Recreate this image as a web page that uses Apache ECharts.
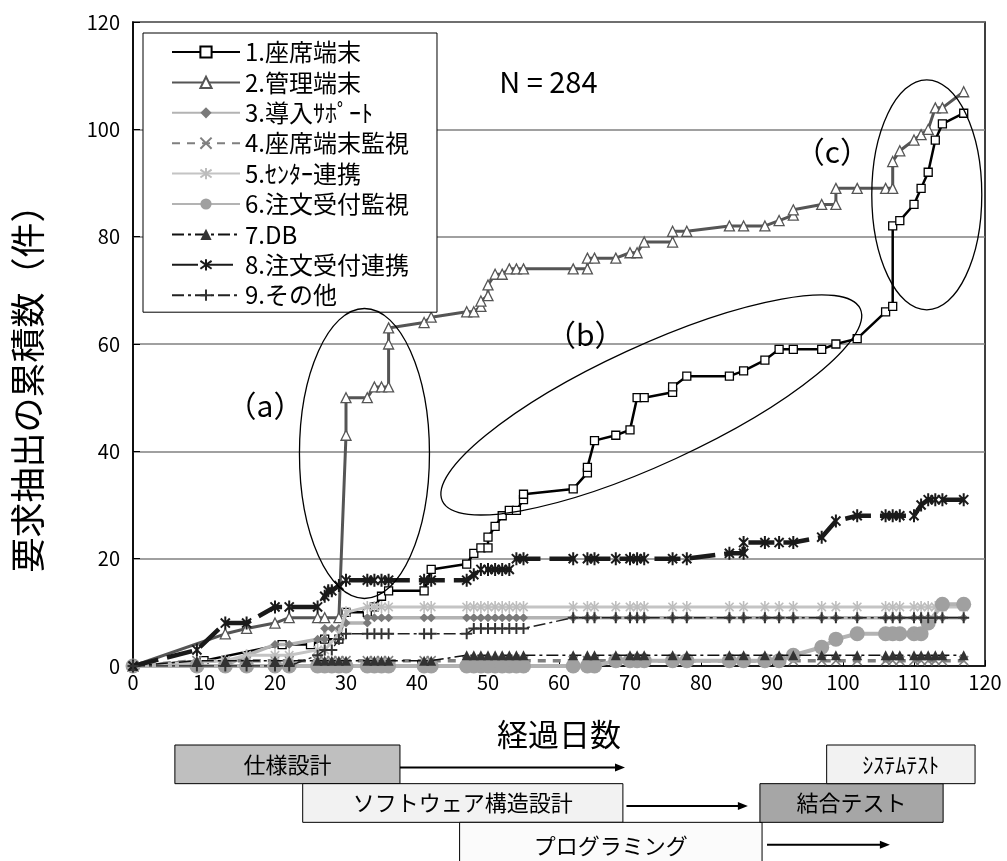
<!DOCTYPE html>
<html><head><meta charset="utf-8">
<script src="https://cdn.jsdelivr.net/npm/echarts@6/dist/echarts.min.js"></script>
<style>html,body{margin:0;padding:0;background:#fff}#c{width:1007px;height:861px}</style>
</head><body><div id="c"></div>
<script>
const FONT = '"Noto Sans CJK JP", "Noto Sans", sans-serif';

// ---- data ----
const seriesNames = ['1.座席端末','2.管理端末','3.導入ｻﾎﾟｰﾄ','4.座席端末監視','5.ｾﾝﾀｰ連携','6.注文受付監視','7.DB','8.注文受付連携','9.その他'];
const xTicks = [0,10,20,30,40,50,60,70,80,90,100,110,120];
const yTicks = [0,20,40,60,80,100,120];

const s1 = [[0,0],[10,1],[21,4],[25,4],[27,5],[29,5],[30,10],[33,10],[34,11],[35,13],[36,14],[41,14],[42,18],[47,19],[48,21],[49,22],[50,22],[50,24],[51,26],[52,28],[53,29],[54,29],[55,31],[55,32],[62,33],[64,36],[64,37],[65,42],[68,43],[70,44],[71,50],[72,50],[76,51],[76,52],[78,54],[84,54],[86,55],[89,57],[91,59],[93,59],[97,59],[99,60],[102,61],[106,66],[107,67],[107,82],[108,83],[110,86],[111,89],[112,92],[113,98],[114,101],[117,103]];
const s2 = [[0,0],[13,6],[16,7],[20,8],[22,9],[26,9],[27,9],[29,9],[30,43],[30,50],[33,50],[34,52],[35,52],[36,52],[36,60],[36,63],[41,64],[42,65],[47,66],[48,66],[49,67],[49,68],[50,69],[50,71],[51,73],[52,73],[53,74],[54,74],[55,74],[62,74],[64,74],[64,76],[65,76],[68,76],[70,77],[71,77],[72,79],[76,79],[76,81],[78,81],[84,82],[86,82],[89,82],[91,83],[93,84],[93,85],[97,86],[99,86],[99,89],[102,89],[106,89],[107,89],[107,94],[108,96],[110,98],[111,99],[112,100],[113,104],[114,104],[117,107]];
const s3 = [[0,0],[9,0],[13,0],[16,2],[20,4],[22,4],[26,5],[27,5],[27,7],[28,7],[29,7],[30,8],[33,8],[33,9],[34,9],[35,9],[36,9],[41,9],[42,9],[47,9],[48,9],[49,9],[50,9],[51,9],[52,9],[53,9],[54,9],[55,9],[62,9],[64,9],[65,9],[68,9],[70,9],[71,9],[72,9],[76,9],[78,9],[84,9],[86,9],[89,9],[91,9],[93,9],[97,9],[99,9],[102,9],[106,9],[107,9],[108,9],[110,9],[111,9],[112,9],[113,9],[114,9],[117,9]];
const s4 = [[0,0],[9,1],[13,1],[16,1],[20,1],[22,1],[26,1],[27,1],[28,1],[29,1],[30,1],[33,1],[34,1],[35,1],[36,1],[41,1],[42,1],[47,1],[48,1],[49,1],[50,1],[51,1],[52,1],[53,1],[54,1],[55,1],[62,1],[64,1],[65,1],[68,1],[70,1],[71,1],[72,1],[76,1],[78,1],[84,1],[86,1],[89,1],[91,1],[93,1],[97,1],[99,1],[102,1],[106,1],[107,1],[108,1],[110,1],[111,1],[112,1],[113,1],[114,1],[117,1]];
const s5 = [[0,0],[13,1],[16,2],[20,2],[22,2],[26,3],[27,3],[29,6],[30,10],[33,11],[34,11],[35,11],[36,11],[41,11],[42,11],[47,11],[48,11],[49,11],[50,11],[51,11],[52,11],[53,11],[54,11],[55,11],[62,11],[64,11],[65,11],[68,11],[70,11],[71,11],[72,11],[76,11],[78,11],[84,11],[86,11],[89,11],[91,11],[93,11],[97,11],[99,11],[102,11],[106,11],[107,11],[108,11],[110,11],[111,11],[112,11],[113,11],[114,11],[117,11]];
const s6 = [[0,0],[9,0],[13,0],[16,0],[20,0],[22,0],[26,0],[27,0],[28,0],[29,0],[30,0],[33,0],[34,0],[35,0],[36,0],[41,0],[42,0],[47,0],[48,0],[49,0],[50,0],[51,0],[52,0],[53,0],[54,0],[55,0],[62,0],[64,0],[65,0],[68,1],[70,1],[71,1],[72,1],[76,1],[78,1],[84,1],[86,1],[89,1],[91,1],[93,2],[97,3.5],[99,5],[102,6],[106,6],[107,6],[108,6],[110,6],[111,6],[112,8],[114,11.5],[117,11.5]];
const s7 = [[0,0],[9,1],[13,1],[16,1],[20,1],[22,1],[26,1],[27,1],[28,1],[29,1],[30,1],[33,1],[34,1],[35,1],[36,1],[41,1],[42,1],[47,2],[48,2],[49,2],[50,2],[51,2],[52,2],[53,2],[54,2],[55,2],[62,2],[64,2],[65,2],[68,2],[70,2],[71,2],[72,2],[76,2],[78,2],[84,2],[86,2],[89,2],[91,2],[93,2],[97,2],[99,2],[102,2],[106,2],[107,2],[108,2],[110,2],[111,2],[112,2],[113,2],[114,2],[117,2]];
const s8 = [[0,0],[9,3],[13,8],[16,8],[20,11],[22,11],[26,11],[27,13],[27.5,14],[28,14],[29,15],[30,16],[33,16],[34,16],[35,16],[36,16],[41,16],[42,16],[47,16],[48,17],[49,18],[50,18],[51,18],[52,18],[53,18],[54,20],[55,20],[62,20],[64,20],[65,20],[68,20],[70,20],[71,20],[72,20],[76,20],[78,20],[84,21],[86,21],[86,23],[89,23],[91,23],[93,23],[97,24],[99,27],[102,28],[106,28],[107,28],[108,28],[110,28],[111,30],[112,31],[113,31],[114,31],[117,31]];
const s9 = [[0,0],[9,0],[13,0],[16,0],[20,0],[22,0],[26,2],[27,3],[28,3],[29,5],[30,6],[33,6],[34,6],[35,6],[36,6],[41,6],[42,6],[47,6],[48,7],[49,7],[50,7],[51,7],[52,7],[53,7],[54,7],[55,7],[62,9],[64,9],[65,9],[68,9],[70,9],[71,9],[72,9],[76,9],[78,9],[84,9],[86,9],[89,9],[91,9],[93,9],[97,9],[99,9],[102,9],[106,9],[107,9],[108,9],[110,9],[111,9],[112,9],[113,9],[114,9],[117,9]];
const seriesData = [s1,s2,s3,s4,s5,s6,s7,s8,s9];

// phases (schedule below the chart)
const phaseNames = ['仕様設計','ソフトウェア構造設計','プログラミング','結合テスト','ｼｽﾃﾑﾃｽﾄ'];
const phaseStart = [5.9, 23.9, 46.0, 88.3, 97.7];
const phaseEnd   = [37.6, 69.0, 88.6, 114.1, 118.6];
const phaseRow   = [0, 1, 2, 1, 0];
const arrowStart = [37.6, 69.5, 89.3];
const arrowEnd   = [69.3, 86.6, 106.6];
const arrowRow   = [0, 1, 2];

// annotations
const noteText = ['N = 284', '（a）', '（b）', '（c）'];
const notePos  = [[58.5, 108.8], [18.6, 48.5], [63.7, 61.8], [98.5, 95.8]];
const ellipseCenter = [[32.6, 39.6], [73.0, 48.65], [111.8, 87.8]];

// ---- styles ----
const P_X = 'path://M0,0L10,10M10,0L0,10';
const P_STAR = 'path://M1.5,1.5L8.5,8.5M8.5,1.5L1.5,8.5M5,0L5,10';
const P_PLUS = 'path://M5,0L5,10M0,5L10,5';
const styles = [
  {lc:'#000000', w:2.5, t:'solid', sym:'rect', size:8, fill:'#ffffff', stroke:'#000000', bw:1.3},
  {lc:'#555555', w:3, t:'solid', sym:'triangle', size:10, fill:'#ffffff', stroke:'#555555', bw:1.3},
  {lc:'#b3b3b3', w:3.5, t:'solid', sym:'diamond', size:9, fill:'#7a7a7a', stroke:'#7a7a7a', bw:0},
  {lc:'#7f7f7f', w:3.5, t:[8,7], sym:P_X, size:9, fill:'rgba(0,0,0,0)', stroke:'#7f7f7f', bw:1.5},
  {lc:'#c4c4c4', w:3, t:'solid', sym:P_STAR, size:12, fill:'rgba(0,0,0,0)', stroke:'#bdbdbd', bw:1.6},
  {lc:'#b3b3b3', w:4, t:'solid', sym:'circle', size:15, fill:'#a0a0a0', stroke:'#a0a0a0', bw:0},
  {lc:'#111111', w:1.5, t:[12,4,3,4], sym:'triangle', size:10, fill:'#333333', stroke:'#333333', bw:0},
  {lc:'#1a1a1a', w:4.5, t:[26,9], sym:P_STAR, size:13, fill:'rgba(0,0,0,0)', stroke:'#1a1a1a', bw:2},
  {lc:'#222222', w:1.5, t:[12,4,3,4], sym:P_PLUS, size:11, fill:'rgba(0,0,0,0)', stroke:'#333333', bw:2}
];
const phaseFill = ['#bfbfbf','#f2f2f2','#fbfbfb','#a6a6a6','#f2f2f2'];

const lineSeries = seriesNames.map((name, i) => {
  const s = styles[i];
  return {
    type:'line', name, xAxisIndex:0, yAxisIndex:0, data: seriesData[i],
    symbol: s.sym, symbolSize: s.size, symbolKeepAspect: true, showAllSymbol: true,
    lineStyle: {color: s.lc, width: s.w, type: s.t},
    itemStyle: {color: s.fill, borderColor: s.stroke, borderWidth: s.bw},
    emphasis: {disabled: true}, z: 2 + i * 0.01
  };
});

const phaseData = phaseNames.map((n, i) => [phaseStart[i], phaseEnd[i], phaseRow[i]]);
const arrowData = arrowStart.map((a, i) => [a, arrowEnd[i], arrowRow[i]]);

const chart = echarts.init(document.getElementById('c'));
const axisLabelStyle = {color:'#000', fontSize:20, fontFamily: FONT};
chart.setOption({
  animation: false,
  backgroundColor: '#fff',
  grid: [
    {left:133, right:22, top:22, bottom:195, show:true, borderColor:'#000', borderWidth:1.5, backgroundColor:'transparent'},
    {left:133, right:22, top:745, height:120}
  ],
  xAxis: [
    {type:'value', gridIndex:0, min:xTicks[0], max:xTicks[xTicks.length-1], interval:10,
     axisLine:{show:true, onZero:false, lineStyle:{color:'#000', width:1.5}},
     axisTick:{show:true, inside:true, length:6, lineStyle:{color:'#000', width:1}},
     axisLabel:{...axisLabelStyle, margin:6},
     splitLine:{show:false},
     name:'経過日数', nameLocation:'middle', nameGap:53,
     nameTextStyle:{color:'#000', fontSize:31, fontFamily:FONT}},
    {type:'value', gridIndex:1, min:0, max:120, show:false}
  ],
  yAxis: [
    {type:'value', gridIndex:0, min:yTicks[0], max:yTicks[yTicks.length-1], interval:20,
     axisLine:{show:true, lineStyle:{color:'#000', width:1.5}},
     axisTick:{show:true, inside:true, length:7, lineStyle:{color:'#000', width:1}},
     axisLabel:{...axisLabelStyle, margin:13},
     splitLine:{show:true, lineStyle:{color:'#808080', width:1.5}},
     name:'要求抽出の累積数（件）', nameLocation:'middle', nameGap:88, nameRotate:90,
     nameTextStyle:{color:'#000', fontSize:35, fontFamily:FONT, padding:[0,72,0,0]}},
    {type:'value', gridIndex:1, min:0, max:3, inverse:true, show:false}
  ],
  legend: {
    orient:'vertical', left:143, top:33,
    backgroundColor:'#fff', borderColor:'#000', borderWidth:1,
    padding:[7,28,5,28], itemWidth:68, itemHeight:14, itemGap:6.4,
    textStyle:{color:'#000', fontSize:24, fontFamily:FONT},
    selectedMode:false, data: seriesNames, z: 10
  },
  series: [
    ...lineSeries,
    {type:'custom', xAxisIndex:1, yAxisIndex:1, data: phaseData, silent:true,
     renderItem(params, api) {
       const i = params.dataIndex;
       const row = api.value(2);
       const p0 = api.coord([api.value(0), row]);
       const p1 = api.coord([api.value(1), row + (row >= 2 ? 1.2 : 1)]);
       return {type:'group', children:[
         {type:'rect', shape:{x:p0[0], y:p0[1], width:p1[0]-p0[0], height:p1[1]-p0[1]},
          style:{fill:phaseFill[i], stroke:'#000', lineWidth:1}},
         {type:'text', style:{text:phaseNames[i], x:(p0[0]+p1[0])/2, y:(p0[1]+p1[1])/2,
          align:'center', verticalAlign:'middle', fill:'#000', fontSize:22, fontFamily:FONT}}
       ]};
     }},
    {type:'custom', xAxisIndex:1, yAxisIndex:1, data: arrowData, silent:true,
     renderItem(params, api) {
       const a = api.coord([api.value(0), api.value(2) + 0.58]);
       const b = api.coord([api.value(1), api.value(2) + 0.58]);
       return {type:'group', children:[
         {type:'line', shape:{x1:a[0], y1:a[1], x2:b[0]-8, y2:b[1]}, style:{stroke:'#000', lineWidth:2}},
         {type:'polygon', shape:{points:[[b[0],b[1]],[b[0]-10,b[1]-4],[b[0]-10,b[1]+4]]}, style:{fill:'#000'}}
       ]};
     }}
  ]
});

// annotations placed through the chart's own coordinate conversion
const px = p => chart.convertToPixel({gridIndex:0}, p);
const ell = [
  {c: ellipseCenter[0], rx:65, ry:145, rot:0},
  {c: ellipseCenter[1], rx:230, ry:59, rot:24.7},
  {c: ellipseCenter[2], rx:55, ry:115, rot:0}
];
const graphics = [];
ell.forEach(e => {
  const p = px(e.c);
  graphics.push({type:'ellipse', x:p[0], y:p[1], rotation: e.rot*Math.PI/180,
    shape:{cx:0, cy:0, rx:e.rx, ry:e.ry}, style:{fill:null, stroke:'#000', lineWidth:1.3}, z:20, silent:true});
});
noteText.forEach((t, i) => {
  const p = px(notePos[i]);
  graphics.push({type:'text', x:p[0], y:p[1], z:20, silent:true,
    style:{text:t, align:'center', verticalAlign:'middle', fill:'#000',
      fontSize: i === 0 ? 29 : 30, fontFamily: FONT}});
});
chart.setOption({graphic: graphics});
</script>
</body></html>
